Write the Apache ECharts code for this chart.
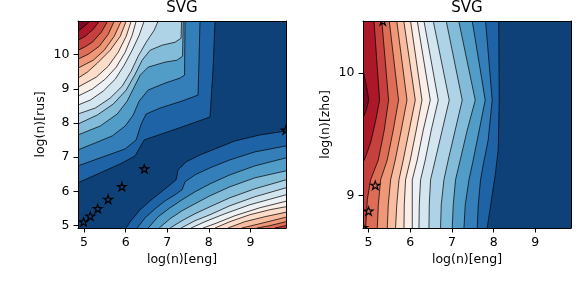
<!DOCTYPE html>
<html><head><meta charset="utf-8">
<script src="https://cdn.jsdelivr.net/npm/echarts@6/dist/echarts.min.js"></script>
<style>html,body{margin:0;padding:0;background:#fff}#c{width:578px;height:302px}</style>
</head><body><div id="c"></div><script>
// ---------- data ----------
const titles = ['SVG', 'SVG'];
const xLabel = 'log(n)[eng]';
const yLabelRus = 'log(n)[rus]';
const yLabelZho = 'log(n)[zho]';
const rusXRange = [4.855, 9.856];
const rusYRange = [4.932, 10.98];
const zhoXRange = [4.866, 9.856];
const zhoYRange = [8.735, 10.423];
const rusXTicks = [5, 6, 7, 8, 9];
const rusYTicks = [5, 6, 7, 8, 9, 10];
const zhoXTicks = [5, 6, 7, 8, 9];
const zhoYTicks = [9, 10];
const nBands = 16;

// contour lines of the eng/rus panel, upper-left side (index = level)
const rusUpper = [
  [[5.151,10.98],[5.007,10.826],[4.855,10.68]],
  [[5.367,10.98],[5.223,10.739],[5.031,10.535],[4.855,10.418]],
  [[5.571,10.98],[5.415,10.651],[5.199,10.36],[5.007,10.214],[4.855,10.127]],
  [[5.727,10.98],[5.583,10.593],[5.367,10.243],[5.103,10.01],[4.855,9.865]],
  [[5.895,10.98],[5.727,10.535],[5.487,10.127],[5.223,9.836],[4.855,9.603]],
  [[6.014,10.98],[5.871,10.535],[5.631,10.127],[5.319,9.748],[5.079,9.486],[4.855,9.311]],
  [[6.134,10.98],[6.014,10.535],[5.823,10.069],[5.583,9.661],[5.295,9.34],[4.855,9.049]],
  [[6.254,10.98],[6.158,10.564],[5.99,10.069],[5.775,9.632],[5.511,9.282],[5.199,8.991],[4.855,8.787]],
  [[6.446,10.98],[6.326,10.564],[6.158,10.127],[5.966,9.69],[5.751,9.282],[5.463,8.933],[5.151,8.67],[4.855,8.525]],
  [[6.782,10.98],[6.686,10.709],[6.494,10.36],[6.302,9.952],[6.134,9.515],[5.919,9.078],[5.631,8.729],[5.271,8.437],[4.855,8.263]],
  [[7.345,10.98],[7.333,10.477],[7.189,10.36],[6.878,10.273],[6.59,10.127],[6.398,9.836],[6.23,9.428],[6.014,8.962],[5.703,8.554],[5.319,8.233],[4.855,7.971]],
  [[7.386,10.98],[7.369,9.952],[7.237,9.836],[6.95,9.778],[6.542,9.632],[6.35,9.398],[6.206,9.049],[6.038,8.641],[5.799,8.263],[5.391,7.913],[4.855,7.651]],
  [[7.429,10.98],[7.417,9.398],[7.309,9.311],[6.95,9.166],[6.542,8.962],[6.326,8.641],[6.182,8.233],[5.99,7.913],[5.679,7.622],[5.271,7.418],[4.855,7.214]],
  [[7.789,10.98],[7.765,9.836],[7.741,8.816],[7.357,8.641],[6.83,8.437],[6.494,8.263],[6.374,7.971],[6.254,7.505],[5.99,7.243],[5.391,6.981],[4.855,6.748]],
  [[8.149,10.98],[8.101,9.544],[8.029,8.175],[7.357,7.884],[6.446,7.505],[6.35,7.301],[6.23,7.039],[5.871,6.806],[5.391,6.544],[4.855,6.253]]
];
// contour lines of the eng/rus panel, lower-right side (index = level)
const rusLower = [
  null,
  null,
  [[9.587,4.932],[9.856,5.0]],
  [[9.156,4.932],[9.468,5.0],[9.856,5.117]],
  [[8.796,4.932],[9.228,5.058],[9.856,5.248]],
  [[8.46,4.932],[8.868,5.117],[9.348,5.262],[9.856,5.393]],
  [[8.149,4.932],[8.508,5.117],[8.988,5.32],[9.468,5.466],[9.856,5.553]],
  [[7.861,4.932],[8.149,5.058],[8.628,5.291],[9.228,5.524],[9.856,5.714]],
  [[7.573,4.932],[7.909,5.117],[8.388,5.35],[8.988,5.612],[9.856,5.903]],
  [[7.333,4.932],[7.669,5.146],[8.029,5.32],[8.508,5.583],[9.108,5.845],[9.856,6.107]],
  [[7.07,4.932],[7.357,5.146],[7.669,5.35],[8.029,5.553],[8.508,5.816],[9.108,6.078],[9.856,6.34]],
  [[6.806,4.932],[7.07,5.204],[7.357,5.437],[7.669,5.641],[8.029,5.874],[8.508,6.136],[9.108,6.398],[9.856,6.602]],
  [[6.542,4.932],[6.782,5.262],[7.07,5.524],[7.357,5.757],[7.669,5.99],[8.029,6.223],[8.508,6.486],[9.108,6.748],[9.856,6.981]],
  [[6.278,4.932],[6.47,5.233],[6.71,5.495],[6.95,5.728],[7.189,5.903],[7.357,6.049],[7.429,6.282],[7.669,6.486],[8.029,6.69],[8.508,6.923],[9.108,7.156],[9.856,7.33]],
  [[6.014,4.932],[6.11,5.117],[6.35,5.466],[6.59,5.728],[6.83,5.961],[7.07,6.194],[7.213,6.34],[7.261,6.631],[7.453,6.864],[7.789,7.068],[8.149,7.243],[8.628,7.476],[9.228,7.651],[9.856,7.767]]
];
// contour lines of the eng/zho panel (index = level)
const zhoLines = [
  [[4.866,10.022],[4.945,9.9],[5.005,9.778],[4.945,9.697],[4.866,9.632]],
  [[5.129,10.423],[5.264,9.778],[5.173,9.615],[5.053,9.437],[4.945,9.331],[4.866,9.266]],
  [[5.317,10.423],[5.48,9.778],[5.376,9.534],[5.233,9.29],[5.048,9.128],[4.969,8.965],[4.928,8.735]],
  [[5.496,10.423],[5.719,9.778],[5.592,9.534],[5.448,9.29],[5.288,9.128],[5.233,8.924],[5.209,8.735]],
  [[5.676,10.423],[5.921,9.778],[5.784,9.534],[5.64,9.29],[5.528,9.128],[5.472,8.924],[5.448,8.735]],
  [[5.844,10.423],[6.12,9.778],[5.976,9.534],[5.832,9.29],[5.729,9.128],[5.676,8.924],[5.647,8.735]],
  [[6.007,10.423],[6.281,9.778],[6.144,9.534],[6.0,9.29],[5.887,9.128],[5.856,8.924],[5.849,8.735]],
  [[6.168,10.423],[6.48,9.778],[6.312,9.534],[6.168,9.29],[6.048,9.128],[6.048,8.924],[6.048,8.735]],
  [[6.329,10.423],[6.671,9.778],[6.504,9.534],[6.36,9.29],[6.247,9.128],[6.216,8.924],[6.209,8.735]],
  [[6.552,10.423],[6.935,9.778],[6.767,9.534],[6.599,9.29],[6.487,9.128],[6.456,8.924],[6.448,8.735]],
  [[6.863,10.423],[7.247,9.778],[7.079,9.534],[6.911,9.29],[6.808,9.128],[6.743,8.924],[6.727,8.735]],
  [[7.163,10.423],[7.559,9.778],[7.367,9.534],[7.199,9.29],[7.086,9.128],[7.031,8.924],[7.007,8.735]],
  [[7.487,10.423],[7.798,9.778],[7.655,9.534],[7.511,9.29],[7.408,9.128],[7.319,8.924],[7.288,8.735]],
  [[7.806,10.423],[7.966,9.778],[7.87,9.453],[7.75,9.25],[7.686,9.128],[7.631,8.924],[7.607,8.735]],
  [[8.122,10.423],[8.134,9.778],[8.11,9.372],[8.038,9.168],[7.966,9.006],[7.894,8.843],[7.846,8.735]]
];
const rusStars = [[4.99,5.10],[5.15,5.27],[5.33,5.49],[5.58,5.76],[5.91,6.13],[6.45,6.65],[9.85,7.78]];
const zhoStars = [[4.87,8.735],[5.00,8.87],[5.16,9.08],[5.34,10.42]];

// ---------- styling helpers ----------
const RDBU = ['#67001f','#b2182b','#d6604d','#f4a582','#fddbc7','#f7f7f7','#d1e5f0','#92c5de','#4393c3','#2166ac','#053061'];
function hex(h){ return [1,3,5].map(i => parseInt(h.substr(i,2),16)); }
function rdbu(t){
  const s = t * 10, i = Math.min(9, Math.floor(s)), f = s - i;
  const a = hex(RDBU[i]), b = hex(RDBU[i+1]);
  return 'rgb(' + [0,1,2].map(j => Math.round(a[j] + (b[j]-a[j]) * f)).join(',') + ')';
}
const bandColor = k => rdbu((k + 0.5) / nBands);
const FONT = '"DejaVu Sans", sans-serif';

function makeRender(xr, yr, lineSets, stars){
  return function(params, api){
    const x0 = xr[0], x1 = xr[1], y0 = yr[0], y1 = yr[1];
    const eps = 1e-6;
    const corners = [[x0,y1],[x1,y1],[x1,y0],[x0,y0]];
    const tpar = p => {
      if (Math.abs(p[1]-y1) < eps) return (p[0]-x0)/(x1-x0);
      if (Math.abs(p[0]-x1) < eps) return 1 + (y1-p[1])/(y1-y0);
      if (Math.abs(p[1]-y0) < eps) return 2 + (x1-p[0])/(x1-x0);
      return 3 + (p[1]-y0)/(y1-y0);
    };
    const children = [];
    children.push({type:'polygon', shape:{points: corners.map(c => api.coord(c))},
      style:{fill: bandColor(nBands-1), stroke: null}});
    const strokes = [];
    lineSets.forEach(set => {
      for (let k = set.length - 1; k >= 0; k--) {
        const L = set[k];
        if (!L) continue;
        const S = L[0], E = L[L.length-1];
        let a = tpar(E), b = tpar(S);
        if (b <= a) b += 4;
        const pts = L.slice();
        for (let c = Math.floor(a) + 1; c < b; c++) pts.push(corners[c % 4]);
        children.push({type:'polygon', shape:{points: pts.map(p => api.coord(p))},
          style:{fill: bandColor(k), stroke: bandColor(k), lineWidth: 0.3}});
        strokes.push({type:'polyline', shape:{points: L.map(p => api.coord(p))},
          style:{fill: null, stroke: '#000', lineWidth: 0.8, opacity: 0.9}});
      }
    });
    strokes.forEach(s => children.push(s));
    const R = 4.6, r = R * 0.382;
    stars.forEach(st => {
      const c = api.coord(st);
      const pts = [];
      for (let i = 0; i < 10; i++) {
        const ang = -Math.PI/2 + i * Math.PI/5;
        const rad = i % 2 === 0 ? R : r;
        pts.push([c[0] + rad*Math.cos(ang), c[1] + rad*Math.sin(ang)]);
      }
      children.push({type:'polygon', shape:{points: pts}, style:{fill: null, stroke:'#000', lineWidth: 1.2}});
    });
    return {type:'group', children};
  };
}

function axisPair(gridIndex, range, ticks, posMain, posOther, isX){
  const main = {
    gridIndex, type:'value', min: range[0], max: range[1], position: posMain, z: 5,
    axisLine:{show:true, onZero:false, lineStyle:{color:'#000', width:1}},
    axisTick:{show:true, length:4.5, inside:false, customValues: ticks, lineStyle:{color:'#000', width:1}},
    axisLabel:{show:true, customValues: ticks, margin: isX ? 8 : 8.5, color:'#000', fontSize:12.5, fontFamily: FONT},
    splitLine:{show:false}
  };
  const other = {
    gridIndex, type:'value', min: range[0], max: range[1], position: posOther, z: 5,
    axisLine:{show:true, onZero:false, lineStyle:{color:'#000', width:1}},
    axisTick:{show:false}, axisLabel:{show:false}, splitLine:{show:false}
  };
  return [main, other];
}

const chart = echarts.init(document.getElementById('c'), null, {renderer:'canvas'});
chart.setOption({
  animation: false,
  backgroundColor: '#fff',
  grid: [
    {left: 78, top: 21, width: 208, height: 207},
    {left: 363, top: 21, width: 208, height: 207}
  ],
  xAxis: [
    ...axisPair(0, rusXRange, rusXTicks, 'bottom', 'top', true),
    ...axisPair(1, zhoXRange, zhoXTicks, 'bottom', 'top', true)
  ],
  yAxis: [
    ...axisPair(0, rusYRange, rusYTicks, 'left', 'right', false),
    ...axisPair(1, zhoYRange, zhoYTicks, 'left', 'right', false)
  ],
  series: [
    {type:'custom', xAxisIndex:0, yAxisIndex:0, clip:true, silent:true,
     data:[[rusXRange[0], rusYRange[0]]],
     renderItem: makeRender(rusXRange, rusYRange, [rusUpper, rusLower], rusStars)},
    {type:'custom', xAxisIndex:2, yAxisIndex:2, clip:true, silent:true,
     data:[[zhoXRange[0], zhoYRange[0]]],
     renderItem: makeRender(zhoXRange, zhoYRange, [zhoLines], zhoStars)}
  ],
  graphic: [
    {type:'text', x:182, y:8.5, style:{text:titles[0], font:'15px ' + FONT, fill:'#000', align:'center', verticalAlign:'middle'}},
    {type:'text', x:467, y:8.5, style:{text:titles[1], font:'15px ' + FONT, fill:'#000', align:'center', verticalAlign:'middle'}},
    {type:'text', x:182, y:260, style:{text:xLabel, font:'12.5px ' + FONT, fill:'#000', align:'center', verticalAlign:'middle'}},
    {type:'text', x:467, y:260, style:{text:xLabel, font:'12.5px ' + FONT, fill:'#000', align:'center', verticalAlign:'middle'}},
    {type:'text', x:40.5, y:124.5, rotation:Math.PI/2, style:{text:yLabelRus, font:'12.5px ' + FONT, fill:'#000', align:'center', verticalAlign:'middle'}},
    {type:'text', x:326, y:124.5, rotation:Math.PI/2, style:{text:yLabelZho, font:'12.5px ' + FONT, fill:'#000', align:'center', verticalAlign:'middle'}}
  ]
});
</script></body></html>
